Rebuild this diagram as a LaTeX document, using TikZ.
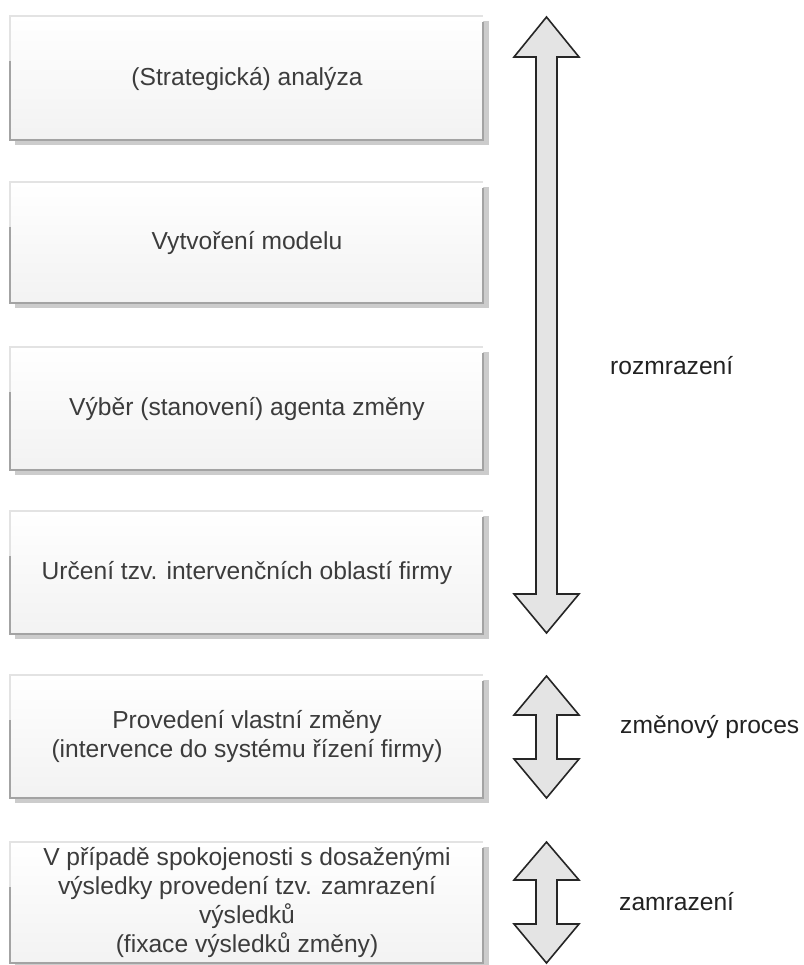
\documentclass[tikz,border=0pt]{standalone}
\usepackage{fontspec}
\setmainfont{Liberation Sans}
\definecolor{txt}{HTML}{3C3C3C}
\definecolor{lbl}{HTML}{222222}
\definecolor{arrfill}{HTML}{E4E4E4}
\tikzset{
  boxtext/.style={font=\fontsize{24.6}{29}\selectfont, text=txt, align=center, inner sep=0pt},
  lbltext/.style={font=\fontsize{24.6}{29}\selectfont, text=lbl, anchor=west, inner sep=0pt},
  arrowshape/.style={fill=arrfill, draw=black!85, line width=1.6pt, line join=miter},
}
\newcommand\procbox[2]{%
  \fill[gray!40] (15,{#1+5}) rectangle (489,{#2+5});
  \shade[top color=white,bottom color=gray!10] (10,#1) rectangle (483,#2);
  \draw[gray!22,line width=1.2pt] (10,{#1+45}) -- (10,#1) -- (483,#1);
  \draw[gray!72,line width=1.8pt] (10,{#1+45}) -- (10,#2) -- (483,#2) -- (483,{#1+6});
}
\newcommand\dblarrow[4]{%
  \draw[arrowshape] (546.5,#1) -- (579,#2) -- (557,#2) -- (557,#3) -- (579,#3)
    -- (546.5,#4) -- (514,#3) -- (536,#3) -- (536,#2) -- (514,#2) -- cycle;
}
\begin{document}
\begin{tikzpicture}[x=1pt,y=-1pt]
\useasboundingbox[fill=white] (0,0) rectangle (803,965);
\procbox{16}{140}
\procbox{182}{303}
\procbox{347}{470}
\procbox{511}{634}
\procbox{675}{798}
\procbox{842}{963}
\node[boxtext] (b1) at (247,79) {(Strategická) analýza};
\node[boxtext] (b2) at (247,243) {Vytvoření modelu};
\node[boxtext] (b3) at (247,409) {Výběr (stanovení) agenta změny};
\node[boxtext] (b4) at (247,573) {Určení tzv. intervenčních oblastí firmy};
\node[boxtext] (b5) at (247,736) {Provedení vlastní změny\\(intervence do systému řízení firmy)};
\node[boxtext] (b6) at (247,902) {V případě spokojenosti s dosaženými\\výsledky provedení tzv. zamrazení\\výsledků\\(fixace výsledků změny)};
\dblarrow{17}{57}{594}{633}
\dblarrow{676}{715}{759}{798}
\dblarrow{842}{880}{924}{963}
\node[lbltext] (l1) at (610,366) {rozmrazení};
\node[lbltext] (l2) at (620,727) {změnový proces};
\node[lbltext] (l3) at (619,902) {zamrazení};
\end{tikzpicture}
\end{document}
